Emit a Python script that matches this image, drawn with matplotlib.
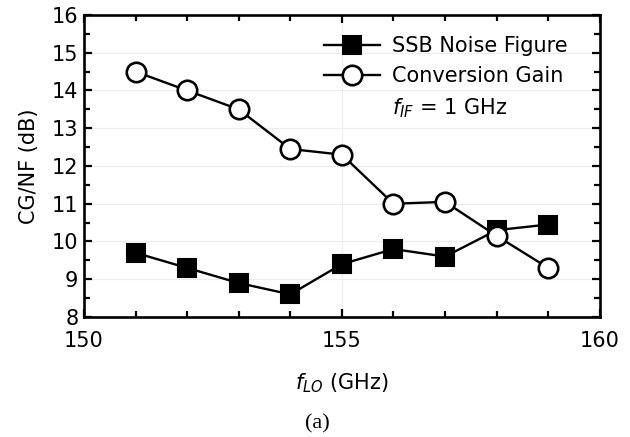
import matplotlib
matplotlib.use("Agg")
import matplotlib.pyplot as plt
from matplotlib.ticker import MultipleLocator

plt.rcParams['font.family'] = ['DejaVu Sans']
plt.rcParams['mathtext.fontset'] = 'dejavusans'

# LO frequency sweep (GHz)
f_lo = [151, 152, 153, 154, 155, 156, 157, 158, 159]
# SSB noise figure (dB)
nf = [9.7, 9.3, 8.9, 8.6, 9.4, 9.8, 9.6, 10.3, 10.45]
# Conversion gain (dB)
cg = [14.5, 14.0, 13.5, 12.45, 12.3, 11.0, 11.05, 10.15, 9.3]

FS = 15

fig = plt.figure(figsize=(6.3, 4.37), dpi=100)
ax = fig.add_axes([0.1333, 0.2746, 0.8187, 0.6911])

ax.plot(f_lo, nf, color='black', lw=1.7, marker='s', ms=13.5,
        mfc='black', mec='black', mew=1.5, label='SSB Noise Figure', zorder=3)
ax.plot(f_lo, cg, color='black', lw=1.7, marker='o', ms=14,
        mfc='white', mec='black', mew=1.9, label='Conversion Gain', zorder=3)

ax.set_xlim(150, 160)
ax.set_ylim(8, 16)
ax.xaxis.set_major_locator(MultipleLocator(5))
ax.xaxis.set_minor_locator(MultipleLocator(1))
ax.yaxis.set_major_locator(MultipleLocator(1))
ax.yaxis.set_minor_locator(MultipleLocator(0.5))

ax.grid(True, which='major', color='#ececec', lw=0.8, zorder=0)

ax.tick_params(which='both', direction='in', top=True, right=True,
               width=1.6, labelsize=FS)
ax.tick_params(which='major', length=6)
ax.tick_params(which='minor', length=4)
ax.tick_params(axis='x', which='both', pad=10)
ax.tick_params(axis='y', which='both', pad=4)
for s in ax.spines.values():
    s.set_linewidth(1.9)

ax.set_ylabel('CG/NF (dB)', fontsize=FS, labelpad=9)
ax.set_xlabel(r'$f_{LO}$ (GHz)', fontsize=FS, labelpad=15)

leg = ax.legend(loc='upper left', bbox_to_anchor=(0.466, 0.929), frameon=False,
                fontsize=FS, handlelength=2.65, handletextpad=0.6,
                labelspacing=0.45, borderaxespad=0.0, borderpad=0.0)

ax.text(0.597, 0.692, r'$f_{IF}$ = 1 GHz', transform=ax.transAxes,
        fontsize=FS, va='center', ha='left')

fig.text(0.503, 0.03, '(a)', fontsize=16, family='Liberation Serif',
         ha='center', va='center')

fig.savefig('out.png', dpi=100)
